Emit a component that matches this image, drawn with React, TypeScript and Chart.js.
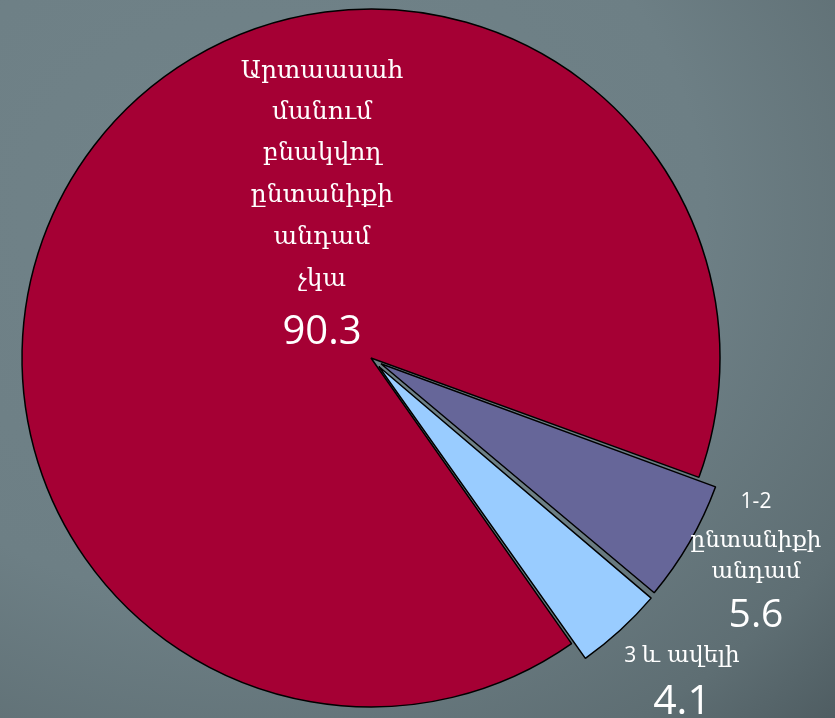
import React, { useEffect, useRef } from "react";
import { Chart, registerables } from "chart.js";

Chart.register(...registerables);

const categories = [
  "1-2 ընտանիքի անդամ",
  "3 և ավելի",
  "Արտաասահմանում բնակվող ընտանիքի անդամ չկա",
];
const values = [5.6, 4.1, 90.3];
const valueLabels = ["5.6", "4.1", "90.3"];
const colors = ["#666699", "#99ccff", "#a50034"];
const offsets = [46, 46, 0];

const labelLines = [
  ["1-2", "ընտանիքի", "անդամ"],
  ["3", "և ավելի"],
  ["Արտաասահ", "մանում", "բնակվող", "ընտանիքի", "անդամ", "չկա"],
];

const armenianFont = "'DejaVu Serif', serif";
const numFont = "'Open Sans', Lato, sans-serif";

const labelPlugin = {
  id: "pieLabels",
  afterDatasetsDraw(chart: any) {
    const meta = chart.getDatasetMeta(0);
    const arc = meta.data[2];
    if (!arc) return;
    const cx = arc.x;
    const ctx = chart.ctx;
    ctx.save();
    ctx.fillStyle = "#ffffff";
    ctx.textAlign = "center";
    ctx.textBaseline = "alphabetic";

    // big slice label
    const bigX = cx - 49;
    const bigBase = [78, 119, 160, 202, 244, 286];
    ctx.font = `25px ${armenianFont}`;
    labelLines[2].forEach((t, i) => ctx.fillText(t, bigX, bigBase[i]));
    ctx.font = `40px ${numFont}`;
    ctx.fillText(valueLabels[2], bigX, 344);

    // 1-2 label
    const pX = cx + 385;
    ctx.font = `21px ${numFont}`;
    ctx.fillText(labelLines[0][0], pX, 508);
    ctx.font = `23px ${armenianFont}`;
    ctx.fillText(labelLines[0][1], pX, 547);
    ctx.fillText(labelLines[0][2], pX, 578);
    ctx.font = `39px ${numFont}`;
    ctx.fillText(valueLabels[0], pX, 627);

    // 3 and more label
    const bX = cx + 311;
    ctx.font = `23px ${armenianFont}`;
    const restW = ctx.measureText(labelLines[1][1]).width;
    ctx.font = `21px ${numFont}`;
    const t3 = labelLines[1][0] + " ";
    const w3 = ctx.measureText(t3).width;
    const total = w3 + restW;
    ctx.textAlign = "left";
    ctx.fillText(t3, bX - total / 2, 662);
    ctx.font = `23px ${armenianFont}`;
    ctx.fillText(labelLines[1][1], bX - total / 2 + w3, 662);
    ctx.textAlign = "center";
    ctx.font = `41px ${numFont}`;
    ctx.fillText(valueLabels[1], bX, 714);

    ctx.restore();
  },
};

export default function App() {
  const ref = useRef<HTMLCanvasElement>(null);
  useEffect(() => {
    document.body.style.margin = "0";
    const chart = new Chart(ref.current as HTMLCanvasElement, {
      type: "pie",
      data: {
        labels: categories,
        datasets: [
          {
            data: values,
            backgroundColor: colors,
            borderColor: "#000000",
            borderWidth: 1.5,
            offset: offsets,
            hoverOffset: 0,
          },
        ],
      },
      options: {
        animation: false,
        responsive: false,
        rotation: 110,
        radius: 349,
        layout: { padding: { left: 0, right: 93, top: 0, bottom: 2 } },
        plugins: {
          legend: { display: false },
          tooltip: { enabled: false },
        },
      },
      plugins: [labelPlugin],
    });
    return () => chart.destroy();
  }, []);
  return (
    <div
      style={{
        position: "absolute",
        left: 0,
        top: 0,
        width: 835,
        height: 718,
        background:
          "radial-gradient(ellipse at 30% 30%, #718389 0%, #6d7f85 55%, #5e6e73 85%, #4f5d62 100%)",
      }}
    >
      <canvas ref={ref} width={835} height={718} style={{ display: "block" }} />
    </div>
  );
}
